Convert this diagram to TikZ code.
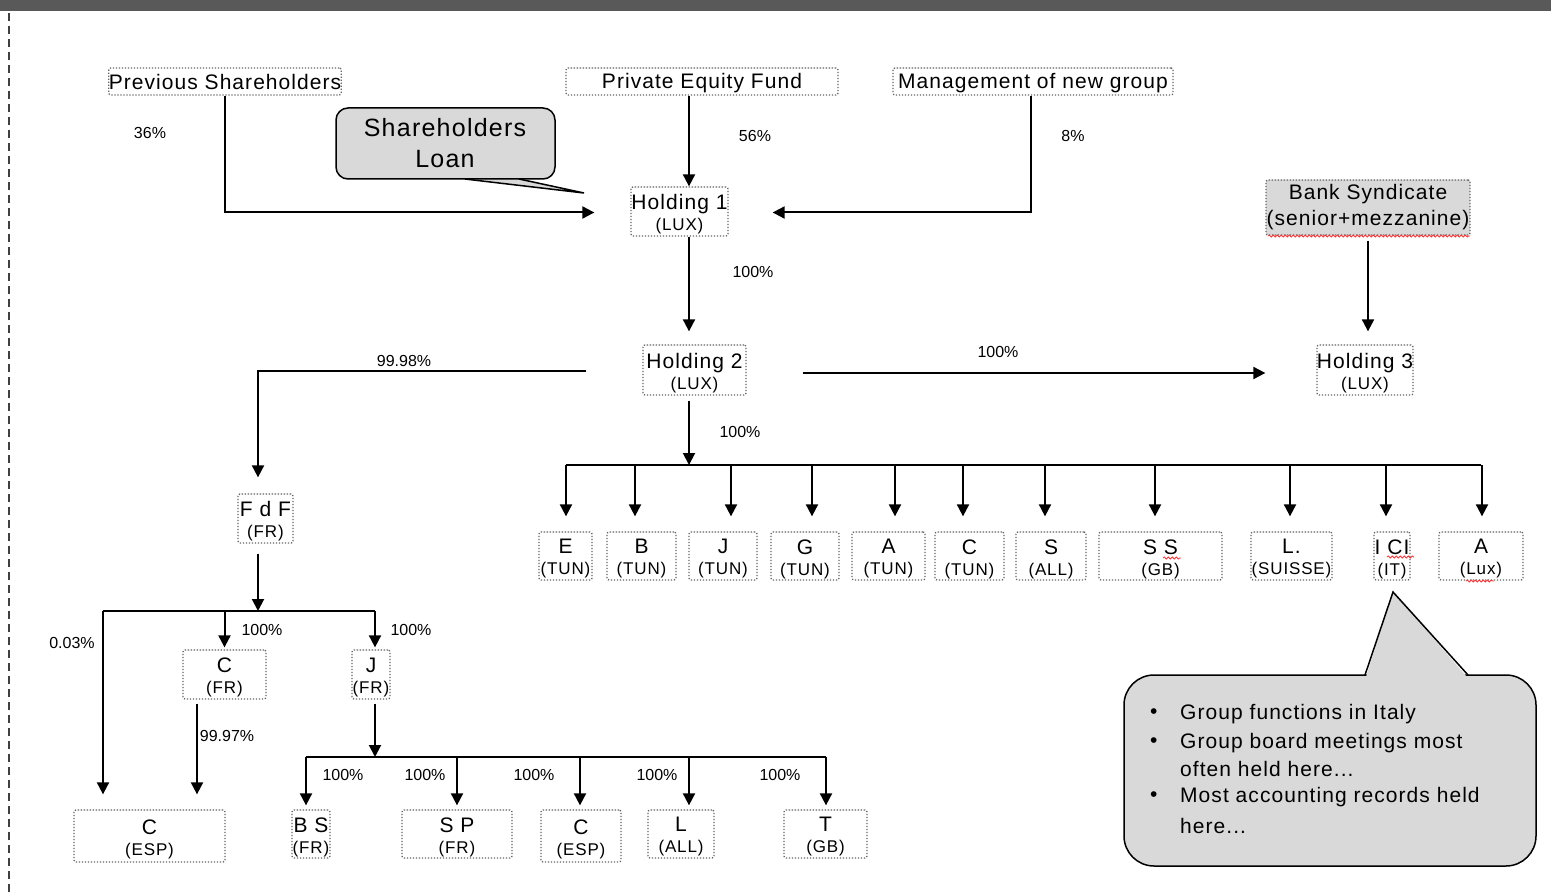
\documentclass[tikz,border=0pt]{standalone}
\usepackage{fontspec}
\setmainfont{Liberation Sans}
\newfontfamily\lab{Liberation Sans}[LetterSpace=5]
\usetikzlibrary{arrows.meta,decorations.pathmorphing}
\definecolor{barc}{HTML}{595959}
\definecolor{cfill}{HTML}{D9D9D9}
\definecolor{boxline}{HTML}{646464}
\tikzset{
  box/.style={draw=boxline, line width=1.3pt, dash pattern=on 1.3pt off 1.7pt, rounded corners=2pt, inner sep=0pt, align=center, font=\lab\fontsize{21}{23}\selectfont},
  lbl/.style={align=center, inner sep=0pt, font=\lab\fontsize{21}{21}\selectfont, yshift=-3pt},
  pct/.style={font=\fontsize{16}{18}\selectfont, inner sep=0pt},
  ln/.style={line width=2pt, black},
  arr/.style={ln, -{Triangle[length=12pt,width=12pt]}},
  wavy/.style={red!80, line width=0.8pt, decorate, decoration={snake, amplitude=1.1pt, segment length=4pt}},
  ctext/.style={anchor=west, inner sep=0pt, font=\lab\fontsize{21}{23}\selectfont},
}
\newcommand{\twol}[2]{#1\\{\fontsize{17}{21}\selectfont #2}}
\newcommand{\dn}[1]{\raisebox{-2pt}[\height][\depth]{#1}}
\begin{document}
\begin{tikzpicture}[x=1pt,y=-1pt]
\useasboundingbox (0,0) rectangle (1551,896);
% frame
\fill[barc] (0,0) rectangle (1551,11);
\draw[black!75, line width=1.5pt, dash pattern=on 8pt off 5pt] (9,13) -- (9,896);

% top nodes
\node[box, minimum width=230pt, minimum height=27pt] (PS) at (225,81.5) {Previous Shareholders};
\node[box, minimum width=272pt, minimum height=27pt] (PEF) at (702,81.5) {\dn{Private Equity Fund}};
\node[box, minimum width=280pt, minimum height=27pt] (MNG) at (1033,81.5) {\dn{Management of new group}};

% shareholders loan callout
\fill[cfill] (465,178) -- (584,193) -- (519,178) -- cycle;
\draw[line width=1.5pt, fill=cfill, rounded corners=12pt] (336,108) rectangle (555,179);
\draw[line width=1.5pt, line join=miter] (465,179) -- (584,193) -- (519,179);
\node[align=center, inner sep=0pt, font=\lab\fontsize{25}{31}\selectfont] (SL) at (445,143.5) {Shareholders\\Loan};

% holdings
\node[box, minimum width=97pt, minimum height=49pt, label={[lbl]center:\twol{Holding 1}{(LUX)}}] (H1) at (679.5,211.5) {};
\node[box, minimum width=103pt, minimum height=50pt, label={[lbl]center:\twol{Holding 2}{(LUX)}}] (H2) at (694.5,370) {};
\node[box, minimum width=96pt, minimum height=50pt, label={[lbl]center:\twol{Holding 3}{(LUX)}}] (H3) at (1365,370) {};
\node[box, fill=cfill, minimum width=204pt, minimum height=55pt, font=\lab\fontsize{21}{26}\selectfont] (BANK) at (1368,207.5) {Bank Syndicate\\(senior+mezzanine)};

% first row subsidiaries
\foreach \n/\x/\w/\a/\b in {E/565.5/53/E/(TUN), B/641.5/69/B/(TUN), J/723/68/J/(TUN), G/805/68/G/(TUN), A/888.5/73/A/(TUN), C/969.5/69/C/(TUN), S/1051/70/S/(ALL), SS/1160.5/123/S S/(GB), L/1291.5/81/L./(SUISSE), ICI/1392/36/I CI/(IT), AL/1481/84/A/(Lux)}
  \node[box, minimum width=\w pt, minimum height=48pt, label={[lbl]center:\twol{\a}{\b}}] (\n) at (\x,556) {};

% French branch
\node[box, minimum width=55pt, minimum height=49pt, label={[lbl]center:\twol{F d F}{(FR)}}] (FdF) at (265.5,518.5) {};
\node[box, minimum width=83pt, minimum height=49pt, label={[lbl]center:\twol{C}{(FR)}}] (C1) at (224.5,674.5) {};
\node[box, minimum width=38pt, minimum height=49pt, label={[lbl]center:\twol{J}{(FR)}}] (J1) at (371,674.5) {};
\node[box, minimum width=151pt, minimum height=52pt, label={[lbl]center:\twol{C}{(ESP)}}] (CE1) at (149.5,836) {};
\node[box, minimum width=38pt, minimum height=48pt, label={[lbl]center:\twol{B S}{(FR)}}] (BS) at (311,834) {};
\node[box, minimum width=110pt, minimum height=48pt, label={[lbl]center:\twol{S P}{(FR)}}] (SP) at (457,834) {};
\node[box, minimum width=80pt, minimum height=52pt, label={[lbl]center:\twol{C}{(ESP)}}] (CE2) at (581,836) {};
\node[box, minimum width=66pt, minimum height=48pt, label={[lbl]center:\twol{L}{(ALL)}}] (LA) at (681,834) {};
\node[box, minimum width=83pt, minimum height=48pt, label={[lbl]center:\twol{T}{(GB)}}] (T) at (825.5,834) {};

% helper coordinates
\coordinate (x689) at (689,0);
\coordinate (bus1) at (689,465);
\coordinate (bus2) at (258,611);
\coordinate (bus3) at (375,757);

% top connectors
\draw[arr] (PEF.south -| x689) -- (H1.north -| x689);
\draw[arr] (PS.south) |- ([xshift=-36pt,yshift=-1pt]H1.west);
\draw[arr] ([xshift=-2pt]MNG.south) |- ([xshift=44pt,yshift=-1pt]H1.east);
\draw[arr, shorten >=13pt] (H1.south -| x689) -- (H2.north -| x689);
\draw[arr] ([xshift=-56pt,yshift=-1pt]H2.west) -| ([xshift=-7.5pt,yshift=16pt]FdF.north);
\draw[arr] ([xshift=56pt,yshift=-3pt]H2.east) -- ([xshift=-51pt,yshift=-3pt]H3.west);
\draw[arr] ([yshift=-5pt]BANK.south) -- ([yshift=13pt]H3.north -| BANK.south);
\draw[arr] ([yshift=-5pt]H2.south -| x689) -- (bus1);

% first row bus
\draw[ln] (bus1 -| E.north) -- (bus1 -| AL.north);
\foreach \n/\d in {E/0.5, B/-6.5, J/8, G/7, A/6.5, C/-6.5, S/-6, SS/-5.5, L/-1.5, ICI/-6, AL/1}
  \draw[arr] ([xshift=\d pt]\n.north |- bus1) -- ([xshift=\d pt, yshift=15pt]\n.north);

% French branch connectors
\draw[arr] ([xshift=-7.5pt,yshift=-10pt]FdF.south) -- (bus2);
\draw[ln] ([xshift=-46.5pt]CE1.north |- bus2) -- ([xshift=4pt]J1.north |- bus2);
\draw[arr] ([xshift=-46.5pt]CE1.north |- bus2) -- ([xshift=-46.5pt,yshift=15pt]CE1.north);
\draw[arr] (C1.north |- bus2) -- ([yshift=2pt]C1.north);
\draw[arr] ([xshift=4pt]J1.north |- bus2) -- ([xshift=4pt,yshift=2pt]J1.north);
\draw[arr] ([xshift=-27.5pt,yshift=-4pt]C1.south) -- ([xshift=47.5pt,yshift=15pt]CE1.north);
\draw[arr] ([xshift=4pt,yshift=-4pt]J1.south) -- (bus3);
\draw[ln] ([xshift=-5pt]BS.north |- bus3) -- ([xshift=0.5pt]T.north |- bus3);
\foreach \n/\d in {BS/-5, SP/0, CE2/-1, LA/8, T/0.5}
  \draw[arr] ([xshift=\d pt]\n.north |- bus3) -- ([xshift=\d pt, yshift=4pt]\n.north);

% percentage labels
\node[pct] (p36) at (150,133) {36\%};
\node[pct] (p56) at (755,136) {56\%};
\node[pct] (p8) at (1073,136) {8\%};
\node[pct] (p100a) at (753,272) {100\%};
\node[pct] (p9998) at (404,361) {99.98\%};
\node[pct] (p100b) at (998,352) {100\%};
\node[pct] (p100c) at (740,432) {100\%};
\node[pct] (p003) at (72,643) {0.03\%};
\node[pct] (p100d) at (262,630) {100\%};
\node[pct] (p100e) at (411,630) {100\%};
\node[pct] (p9997) at (227,736) {99.97\%};
\node[pct] (p100f) at (343,775) {100\%};
\node[pct] (p100g) at (425,775) {100\%};
\node[pct] (p100h) at (534,775) {100\%};
\node[pct] (p100i) at (657,775) {100\%};
\node[pct] (p100j) at (780,775) {100\%};

% spell-check underlines
\draw[wavy] (1268,236) -- (1470,236);
\draw[wavy] (1163,558) -- (1181,558);
\draw[wavy] (1387,557) -- (1414,557);
\draw[wavy] (1466,581) -- (1494,581);

% big callout
\draw[line width=1.5pt, fill=cfill, rounded corners=30pt] (1124,675) rectangle (1536,866);
\fill[cfill] (1366,677) -- (1393,592) -- (1467,677) -- cycle;
\draw[line width=1.5pt, line join=miter] (1365,675) -- (1393,592) -- (1468,675);
\node[ctext] (b1) at (1150,714) {\textbullet};
\node[ctext] (b2) at (1150,743) {\textbullet};
\node[ctext] (b3) at (1150,797) {\textbullet};
\node[ctext] (t1) at (1180,714) {Group functions in Italy};
\node[ctext] (t2) at (1180,743) {Group board meetings most};
\node[ctext] (t3) at (1180,769) {often held here...};
\node[ctext] (t4) at (1180,797) {Most accounting records held};
\node[ctext] (t5) at (1180,826) {here...};
\end{tikzpicture}
\end{document}
